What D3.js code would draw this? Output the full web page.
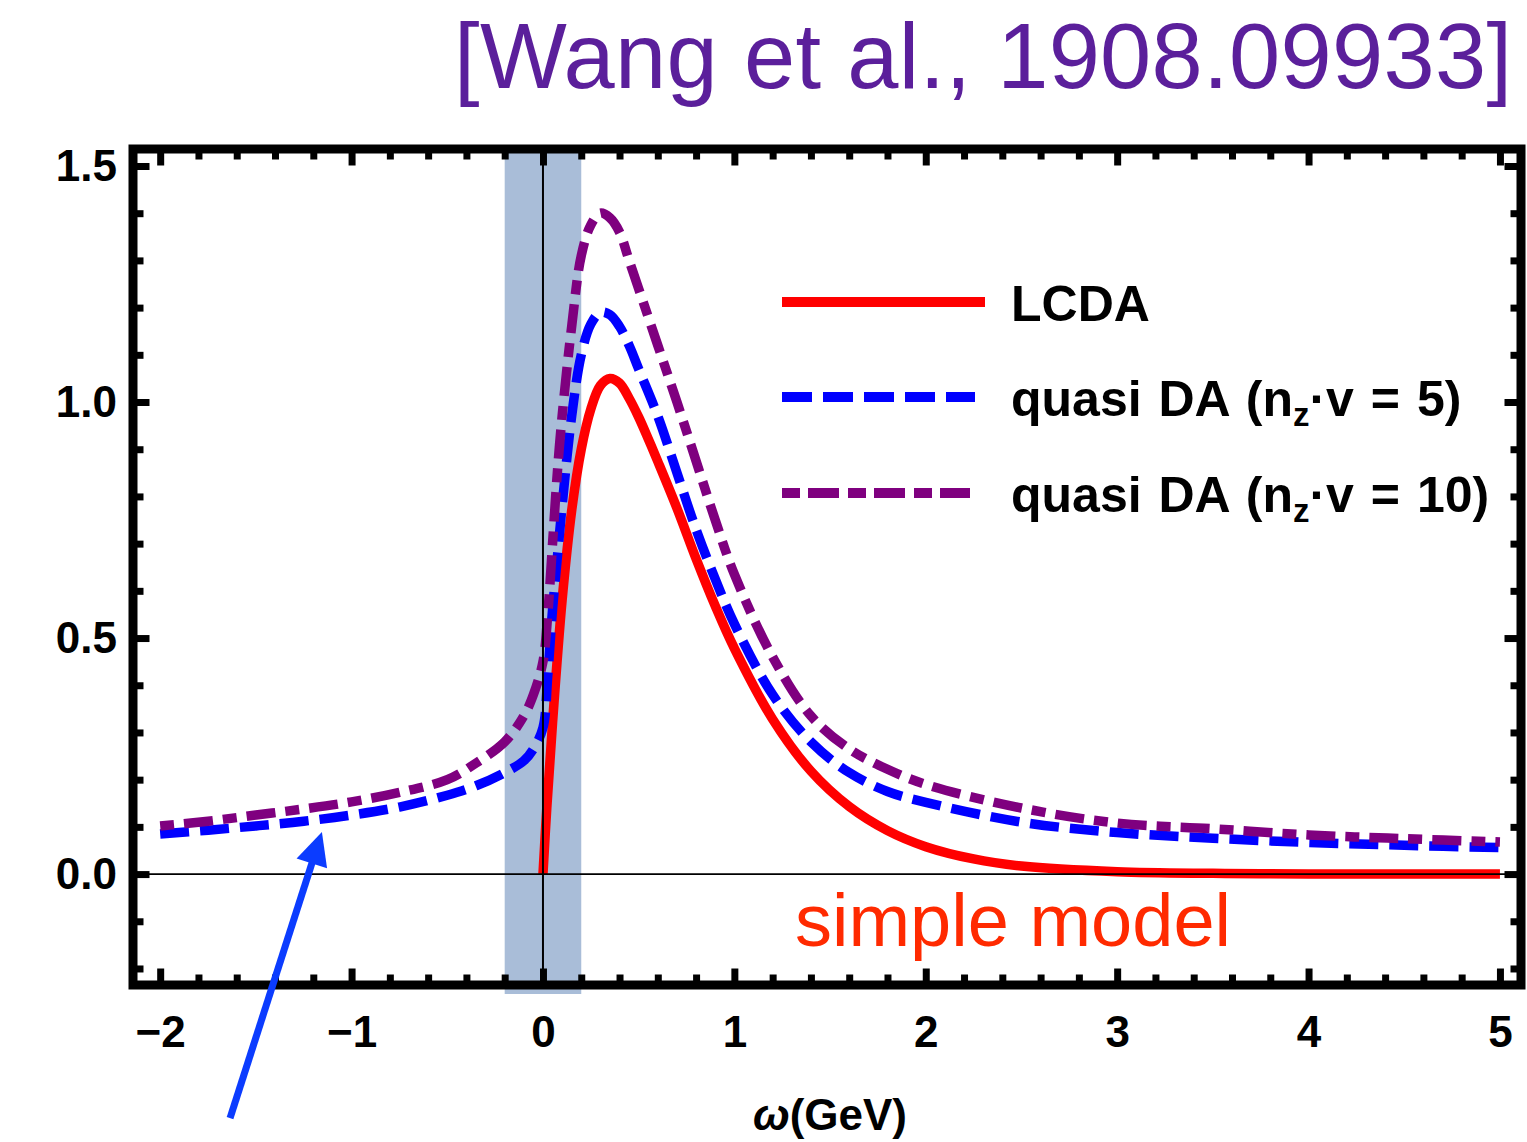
<!DOCTYPE html>
<html><head><meta charset="utf-8">
<script src="https://cdn.jsdelivr.net/npm/d3@7"></script>
<style>html,body{margin:0;padding:0;background:#fff;} svg{display:block;}</style>
</head><body><svg id="c" width="1527" height="1142"></svg>
<script>
// ---- data ----
const omegaLCDA = [0, 0.02, 0.05, 0.1, 0.15, 0.2, 0.25, 0.3, 0.35, 0.4, 0.45, 0.5, 0.55, 0.6, 0.7, 0.8, 0.9, 1.0, 1.2, 1.4, 1.6, 1.8, 2.0, 2.25, 2.5, 3.0, 3.5, 4.0, 4.5, 5.0];
const lcdaValues = [0, 0.14, 0.32, 0.58, 0.77, 0.9, 0.985, 1.035, 1.05, 1.04, 1.008, 0.968, 0.922, 0.874, 0.775, 0.668, 0.568, 0.478, 0.328, 0.218, 0.143, 0.092, 0.058, 0.032, 0.017, 0.005, 0.0015, 0.0004, 0.0001, 0];

const omegaQuasi = [-2, -1.75, -1.5, -1.25, -1, -0.75, -0.5, -0.35, -0.2, -0.1, -0.05, 0, 0.025, 0.05, 0.075, 0.1, 0.15, 0.2, 0.25, 0.3, 0.35, 0.4, 0.45, 0.5, 0.6, 0.7, 0.8, 0.9, 1.0, 1.2, 1.4, 1.6, 1.8, 2.0, 2.5, 3.0, 3.5, 4.0, 4.5, 5.0];
const quasi5Values = [0.085, 0.093, 0.102, 0.112, 0.125, 0.142, 0.167, 0.187, 0.215, 0.24, 0.265, 0.31, 0.42, 0.56, 0.67, 0.78, 0.97, 1.10, 1.165, 1.19, 1.185, 1.16, 1.12, 1.07, 0.97, 0.85, 0.73, 0.625, 0.53, 0.38, 0.28, 0.215, 0.175, 0.152, 0.11, 0.088, 0.076, 0.067, 0.061, 0.056];
const quasi10Values = [0.102, 0.112, 0.125, 0.138, 0.153, 0.173, 0.2, 0.235, 0.28, 0.335, 0.38, 0.45, 0.55, 0.70, 0.85, 0.97, 1.16, 1.31, 1.375, 1.40, 1.39, 1.36, 1.30, 1.24, 1.12, 1.0, 0.875, 0.75, 0.635, 0.46, 0.335, 0.265, 0.222, 0.19, 0.14, 0.108, 0.096, 0.083, 0.075, 0.068];

const xMajorTicks = [-2, -1, 0, 1, 2, 3, 4, 5];
const yMajorTicks = [0, 0.5, 1.0, 1.5];
const bandRange = [-0.2, 0.2];
const seriesLabels = ["LCDA", "quasi DA (n", "quasi DA (n"];
const seriesLabelTails = ["", "·v = 5)", "·v = 10)"];
const titleText = "[Wang et al., 1908.09933]";
const annotationText = "simple model";
const arrowFrom = [-1.635, -0.517];
const arrowTo = [-1.155, 0.089];

// ---- layout ----
const svg = d3.select("#c");
const X0 = 133, X1 = 1521, Y0 = 149, Y1 = 985;
const x = d3.scaleLinear().domain([-2.142, 5.110]).range([X0, X1]);
const y = d3.scaleLinear().domain([-0.235, 1.536]).range([Y1, Y0]);
const FONT = "'Liberation Sans', Arial, Helvetica, sans-serif";

// title
svg.append("text").attr("x", 454).attr("y", 88)
  .attr("font-family", FONT).attr("font-size", 92).attr("fill", "#5b1f9b")
  .attr("textLength", 1058).attr("lengthAdjust", "spacing")
  .text(titleText);

// shaded band
svg.append("rect")
  .attr("x", x(bandRange[0])).attr("width", x(bandRange[1]) - x(bandRange[0]))
  .attr("y", Y0).attr("height", 994 - Y0)
  .attr("fill", "#a9bdd8");

// clip
svg.append("clipPath").attr("id", "clip").append("rect")
  .attr("x", X0).attr("y", Y0).attr("width", X1 - X0).attr("height", Y1 - Y0);

const line = d3.line().curve(d3.curveCatmullRom.alpha(0.5)).x(d => x(d[0])).y(d => y(d[1]));
const plot = svg.append("g").attr("clip-path", "url(#clip)");

const series = [
  {xs: omegaLCDA, ys: lcdaValues, color: "#ff0000", dash: null},
  {xs: omegaQuasi, ys: quasi5Values, color: "#0000ff", dash: "29,11"},
  {xs: omegaQuasi, ys: quasi10Values, color: "#7f007f", dash: "14,10,29,10"}
];
series.forEach(s => {
  plot.append("path").datum(s.xs.map((v, i) => [v, s.ys[i]]))
    .attr("d", line).attr("fill", "none").attr("stroke", s.color)
    .attr("stroke-width", 9.5).attr("stroke-dasharray", s.dash);
});

// zero axes on top
svg.append("line").attr("x1", x(0)).attr("x2", x(0)).attr("y1", Y0).attr("y2", Y1)
  .attr("stroke", "#000").attr("stroke-width", 2);
svg.append("line").attr("x1", X0).attr("x2", X1).attr("y1", y(0)).attr("y2", y(0))
  .attr("stroke", "#000").attr("stroke-width", 1.8);

// axes with inward ticks
const xMinor = d3.range(-2.0, 5.01, 0.2).map(v => +v.toFixed(2)).filter(v => Math.abs(v - Math.round(v)) > 1e-6);
const yMinor = d3.range(-0.2, 1.51, 0.1).map(v => +v.toFixed(2)).filter(v => Math.abs(v * 2 - Math.round(v * 2)) > 1e-6);

function styleAxis(g) {
  g.select(".domain").remove();
  g.selectAll(".tick line").attr("stroke", "#000").attr("stroke-width", 7);
  g.selectAll(".tick text").attr("font-family", FONT).attr("font-weight", "bold")
    .attr("font-size", 44).attr("fill", "#000");
}
const MAJ = -16.5, MIN = -10.5;
svg.append("g").attr("transform", `translate(0,${Y1})`)
  .call(d3.axisBottom(x).tickValues(xMajorTicks).tickSizeInner(MAJ).tickSizeOuter(0).tickPadding(31).tickFormat(d3.format("d"))).call(styleAxis);
svg.append("g").attr("transform", `translate(0,${Y1})`)
  .call(d3.axisBottom(x).tickValues(xMinor).tickSizeInner(MIN).tickSizeOuter(0).tickFormat("")).call(styleAxis);
svg.append("g").attr("transform", `translate(0,${Y0})`)
  .call(d3.axisTop(x).tickValues(xMajorTicks).tickSizeInner(MAJ).tickSizeOuter(0).tickFormat("")).call(styleAxis);
svg.append("g").attr("transform", `translate(0,${Y0})`)
  .call(d3.axisTop(x).tickValues(xMinor).tickSizeInner(MIN).tickSizeOuter(0).tickFormat("")).call(styleAxis);
svg.append("g").attr("transform", `translate(${X0},0)`)
  .call(d3.axisLeft(y).tickValues(yMajorTicks).tickSizeInner(MAJ).tickSizeOuter(0).tickPadding(16).tickFormat(d3.format(".1f"))).call(styleAxis);
svg.append("g").attr("transform", `translate(${X0},0)`)
  .call(d3.axisLeft(y).tickValues(yMinor).tickSizeInner(MIN).tickSizeOuter(0).tickFormat("")).call(styleAxis);
svg.append("g").attr("transform", `translate(${X1},0)`)
  .call(d3.axisRight(y).tickValues(yMajorTicks).tickSizeInner(MAJ).tickSizeOuter(0).tickFormat("")).call(styleAxis);
svg.append("g").attr("transform", `translate(${X1},0)`)
  .call(d3.axisRight(y).tickValues(yMinor).tickSizeInner(MIN).tickSizeOuter(0).tickFormat("")).call(styleAxis);

// frame
svg.append("rect").attr("x", X0).attr("y", Y0).attr("width", X1 - X0).attr("height", Y1 - Y0)
  .attr("fill", "none").attr("stroke", "#000").attr("stroke-width", 9);

// x label
const xl = svg.append("text").attr("x", 830).attr("y", 1130).attr("text-anchor", "middle")
  .attr("font-family", FONT).attr("font-weight", "bold").attr("font-size", 44).attr("fill", "#000");
xl.append("tspan").attr("font-style", "italic").text("ω");
xl.append("tspan").text("(GeV)");

// legend
const legY = [302, 397, 493];
const legX2 = [985, 975, 970];
const legDash = [null, "30,11", "18,8,31,9"];
series.forEach((s, i) => {
  svg.append("line").attr("x1", 782).attr("x2", legX2[i]).attr("y1", legY[i]).attr("y2", legY[i])
    .attr("stroke", s.color).attr("stroke-width", 10).attr("stroke-dasharray", legDash[i]);
  const t = svg.append("text").attr("x", 1011).attr("y", legY[i] + 19)
    .attr("font-family", FONT).attr("font-weight", "bold").attr("font-size", 50)
    .attr("word-spacing", 3).attr("fill", "#000");
  t.append("tspan").text(seriesLabels[i]);
  if (i > 0) {
    t.append("tspan").attr("font-size", 33).attr("dy", 10).text("z");
    t.append("tspan").attr("dy", -10).text(seriesLabelTails[i]);
  }
});

// annotation text
svg.append("text").attr("x", x(1.317)).attr("y", y(-0.153))
  .attr("font-family", FONT).attr("font-size", 74).attr("fill", "#ff2a00")
  .text(annotationText);

// arrow
const ax1 = x(arrowFrom[0]), ay1 = y(arrowFrom[1]), ax2 = x(arrowTo[0]), ay2 = y(arrowTo[1]);
const len = Math.hypot(ax2 - ax1, ay2 - ay1), ux = (ax2 - ax1) / len, uy = (ay2 - ay1) / len;
const HL = 33, HW = 16;
const bx = ax2 - ux * HL, by = ay2 - uy * HL;
svg.append("line").attr("x1", ax1).attr("y1", ay1).attr("x2", bx + ux * 2).attr("y2", by + uy * 2)
  .attr("stroke", "#0b3cff").attr("stroke-width", 7);
svg.append("path")
  .attr("d", `M${ax2},${ay2}L${bx - uy * HW},${by + ux * HW}L${bx + uy * HW},${by - ux * HW}Z`)
  .attr("fill", "#0b3cff");
</script></body></html>
